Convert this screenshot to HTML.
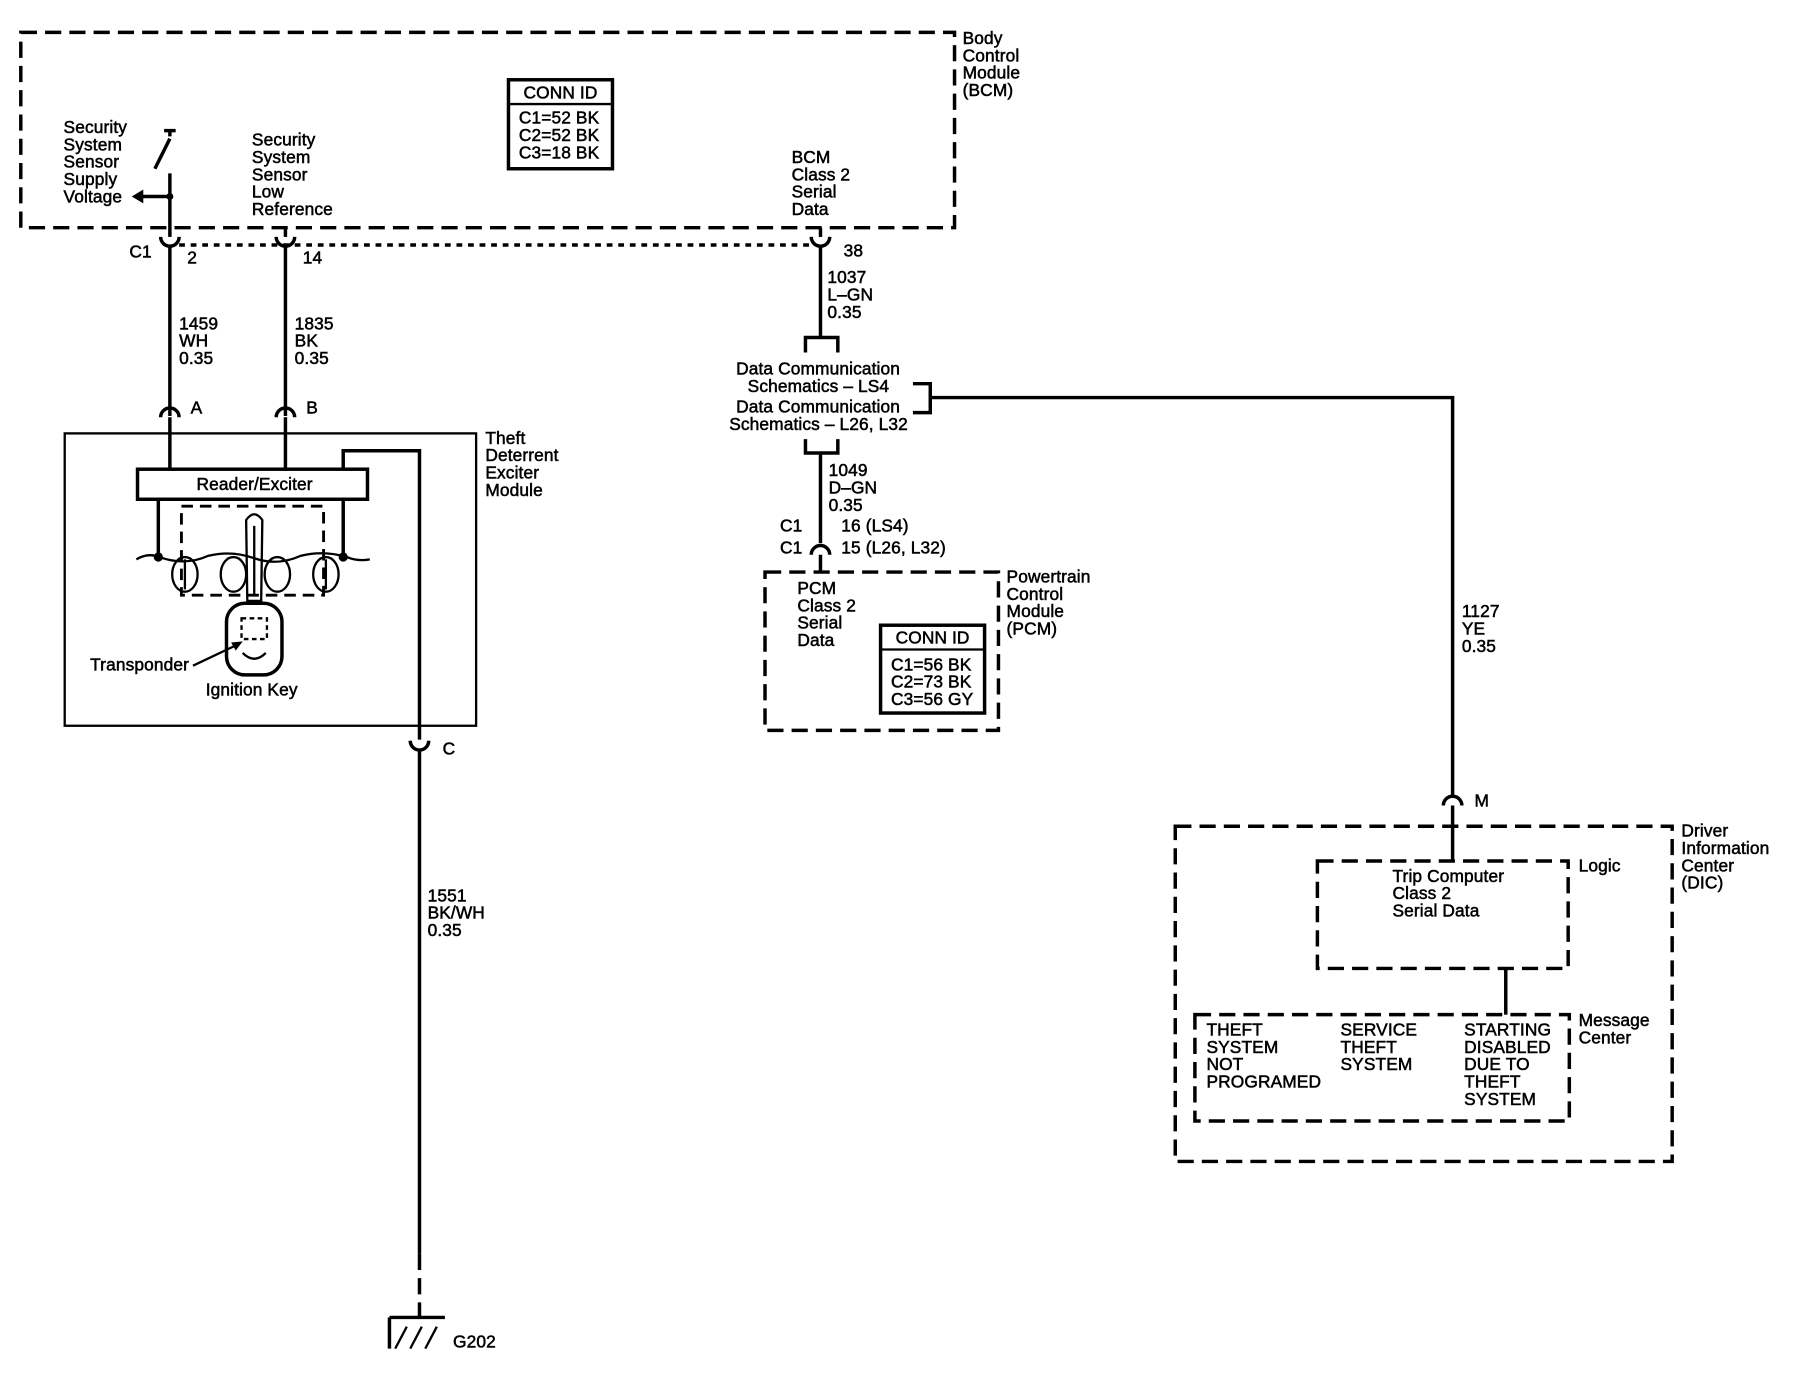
<!DOCTYPE html>
<html><head><meta charset="utf-8"><style>
html,body{margin:0;padding:0;background:#fff;}
svg{display:block;}
text{font-family:"Liberation Sans",Arial,sans-serif;font-size:15px;fill:#000;letter-spacing:0.1px;stroke:#000;stroke-width:0.45px;}
.s{fill:none;stroke:#000;stroke-width:3;}
.d{fill:none;stroke:#000;stroke-width:3;stroke-dasharray:14 7;}
.t{fill:none;stroke:#000;stroke-width:2;}
</style></head><body>
<svg width="1812" height="1392" viewBox="0 0 1568 1204.5" xmlns="http://www.w3.org/2000/svg">
<rect x="0" y="0" width="1568" height="1205" fill="#fff"/>
<!-- BCM -->
<rect x="18" y="28" width="808" height="169" class="d"/>
<text x="833" y="38">Body</text><text x="833" y="53">Control</text><text x="833" y="68">Module</text><text x="833" y="83">(BCM)</text>
<rect x="440" y="69" width="90" height="77" class="s"/><line x1="440" y1="90" x2="530" y2="90" class="t"/>
<text x="453" y="85">CONN ID</text><text x="449" y="107">C1=52 BK</text><text x="449" y="122">C2=52 BK</text><text x="449" y="137">C3=18 BK</text>
<!-- switch -->
<line x1="142" y1="113" x2="152" y2="113" class="s"/>
<line x1="147" y1="113" x2="147" y2="118" class="s"/>
<line x1="147" y1="120" x2="134" y2="146" class="s"/>
<line x1="147" y1="150" x2="147" y2="205" class="s"/>
<circle cx="147" cy="170" r="3"/>
<line x1="147" y1="170" x2="122" y2="170" class="s"/>
<polygon points="114,170 124,164 124,176"/>
<text x="55" y="115">Security</text><text x="55" y="130">System</text><text x="55" y="145">Sensor</text><text x="55" y="160">Supply</text><text x="55" y="175">Voltage</text>
<text x="218" y="126">Security</text><text x="218" y="141">System</text><text x="218" y="156">Sensor</text><text x="218" y="171">Low</text><text x="218" y="186">Reference</text>
<line x1="247" y1="197" x2="247" y2="205" class="s"/>
<text x="685" y="141">BCM</text><text x="685" y="156">Class 2</text><text x="685" y="171">Serial</text><text x="685" y="186">Data</text>
<line x1="710" y1="197" x2="710" y2="205" class="s"/>
<!-- C1 connector -->
<line x1="155" y1="212" x2="702" y2="212" stroke="#000" stroke-width="3" stroke-dasharray="5 5"/>
<path d="M139,205 A8,8 0 0 0 155,205" class="s"/><path d="M239,205 A8,8 0 0 0 255,205" class="s"/><path d="M702,205 A8,8 0 0 0 718,205" class="s"/>
<text x="112" y="223">C1</text><text x="162" y="228">2</text><text x="262" y="228">14</text><text x="730" y="222">38</text>
<line x1="147" y1="213" x2="147" y2="360" class="s"/><line x1="247" y1="213" x2="247" y2="360" class="s"/>
<text x="155" y="285">1459</text><text x="155" y="300">WH</text><text x="155" y="315">0.35</text>
<text x="255" y="285">1835</text><text x="255" y="300">BK</text><text x="255" y="315">0.35</text>
<path d="M139,361 A8,8 0 0 1 155,361" class="s"/><path d="M239,361 A8,8 0 0 1 255,361" class="s"/>
<text x="165" y="358">A</text><text x="265" y="358">B</text>
<!-- Theft module -->
<rect x="56" y="375" width="356" height="253" class="t"/>
<text x="420" y="384">Theft</text><text x="420" y="399">Deterrent</text><text x="420" y="414">Exciter</text><text x="420" y="429">Module</text>
<line x1="147" y1="361" x2="147" y2="406" class="s"/><line x1="247" y1="361" x2="247" y2="406" class="s"/>
<rect x="119" y="406" width="199" height="26" class="s"/>
<text x="170" y="424">Reader/Exciter</text>
<polyline points="297,406 297,390 363,390 363,640" class="s"/>
<line x1="137" y1="432" x2="137" y2="482" class="s"/><line x1="297" y1="432" x2="297" y2="482" class="s"/>
<path d="M118,484 Q128,478 138,482 Q160,490 180,481 Q200,476 220,483 Q240,490 260,481 Q280,476 300,482 Q310,486 320,484" class="t"/>
<circle cx="137" cy="482" r="4"/><circle cx="297" cy="482" r="4"/>
<rect x="157" y="438" width="123" height="77" fill="none" stroke="#000" stroke-width="2.5" stroke-dasharray="10 6"/>
<ellipse cx="160" cy="497" rx="11" ry="15" class="t"/><ellipse cx="202" cy="497" rx="11" ry="15" class="t"/><ellipse cx="240" cy="497" rx="11" ry="15" class="t"/><ellipse cx="282" cy="497" rx="11" ry="15" class="t"/>
<line x1="160" y1="484" x2="160" y2="510" class="t"/><line x1="282" y1="484" x2="282" y2="510" class="t"/>
<path d="M213,450 Q220,440 227,450 L226,520 L214,520 Z" class="t"/>
<line x1="220" y1="455" x2="220" y2="515" class="t"/>
<rect x="196" y="522" width="48" height="62" rx="16" class="s"/>
<rect x="209" y="535" width="22" height="18" fill="none" stroke="#000" stroke-width="2" stroke-dasharray="4 3"/>
<path d="M210,565 Q220,575 230,565" class="t"/>
<text x="78" y="580">Transponder</text>
<line x1="167" y1="576" x2="205" y2="558" class="t"/><polygon points="210,555 200,556 204,563"/>
<text x="178" y="602">Ignition Key</text>
<path d="M355,641 A8,8 0 0 0 371,641" class="s"/><text x="383" y="653">C</text>
<line x1="363" y1="648" x2="363" y2="1085" class="s"/>
<line x1="363" y1="1085" x2="363" y2="1140" class="d"/>
<text x="370" y="780">1551</text><text x="370" y="795">BK/WH</text><text x="370" y="810">0.35</text>
<!-- ground -->
<line x1="337" y1="1140" x2="385" y2="1140" class="s"/>
<line x1="337" y1="1140" x2="337" y2="1167" class="s"/>
<line x1="342" y1="1167" x2="352" y2="1148" class="t"/><line x1="355" y1="1167" x2="365" y2="1148" class="t"/><line x1="368" y1="1167" x2="378" y2="1148" class="t"/>
<text x="392" y="1166">G202</text>
<!-- BCM serial wire -->
<line x1="710" y1="213" x2="710" y2="292" class="s"/>
<text x="716" y="245">1037</text><text x="716" y="260">L–GN</text><text x="716" y="275">0.35</text>
<polyline points="697,305 697,292 725,292 725,305" class="s"/>
<text x="637" y="324">Data Communication</text><text x="647" y="339">Schematics – LS4</text>
<text x="637" y="357">Data Communication</text><text x="631" y="372">Schematics – L26, L32</text>
<polyline points="790,332 805,332 805,357 790,357" class="s"/>
<polyline points="805,344 1257,344 1257,688" class="s"/>
<polyline points="697,380 697,392 725,392 725,380" class="s"/>
<line x1="710" y1="392" x2="710" y2="470" class="s"/>
<text x="717" y="412">1049</text><text x="717" y="427">D–GN</text><text x="717" y="442">0.35</text>
<text x="675" y="460">C1</text><text x="728" y="460">16 (LS4)</text>
<text x="675" y="479">C1</text><text x="728" y="479">15 (L26, L32)</text>
<path d="M702,480 A8,8 0 0 1 718,480" class="s"/>
<line x1="710" y1="480" x2="710" y2="495" class="s"/>
<!-- PCM -->
<rect x="662" y="495" width="202" height="137" class="d"/>
<text x="690" y="514">PCM</text><text x="690" y="529">Class 2</text><text x="690" y="544">Serial</text><text x="690" y="559">Data</text>
<rect x="762" y="541" width="90" height="76" class="s"/><line x1="762" y1="562" x2="852" y2="562" class="t"/>
<text x="775" y="557">CONN ID</text><text x="771" y="580">C1=56 BK</text><text x="771" y="595">C2=73 BK</text><text x="771" y="610">C3=56 GY</text>
<text x="871" y="504">Powertrain</text><text x="871" y="519">Control</text><text x="871" y="534">Module</text><text x="871" y="549">(PCM)</text>
<text x="1265" y="534">1127</text><text x="1265" y="549">YE</text><text x="1265" y="564">0.35</text>
<path d="M1249,697 A8,8 0 0 1 1265,697" class="s"/><text x="1276" y="698">M</text>
<line x1="1257" y1="697" x2="1257" y2="745" class="s"/>
<!-- DIC -->
<rect x="1017" y="715" width="430" height="290" class="d"/>
<text x="1455" y="724">Driver</text><text x="1455" y="739">Information</text><text x="1455" y="754">Center</text><text x="1455" y="769">(DIC)</text>
<rect x="1140" y="745" width="217" height="93" class="d"/>
<text x="1205" y="763">Trip Computer</text><text x="1205" y="778">Class 2</text><text x="1205" y="793">Serial Data</text>
<text x="1366" y="754">Logic</text>
<line x1="1303" y1="838" x2="1303" y2="878" class="s"/>
<rect x="1034" y="878" width="324" height="92" class="d"/>
<text x="1044" y="896">THEFT</text><text x="1044" y="911">SYSTEM</text><text x="1044" y="926">NOT</text><text x="1044" y="941">PROGRAMED</text>
<text x="1160" y="896">SERVICE</text><text x="1160" y="911">THEFT</text><text x="1160" y="926">SYSTEM</text>
<text x="1267" y="896">STARTING</text><text x="1267" y="911">DISABLED</text><text x="1267" y="926">DUE TO</text><text x="1267" y="941">THEFT</text><text x="1267" y="956">SYSTEM</text>
<text x="1366" y="888">Message</text><text x="1366" y="903">Center</text>
</svg>
</body></html>
